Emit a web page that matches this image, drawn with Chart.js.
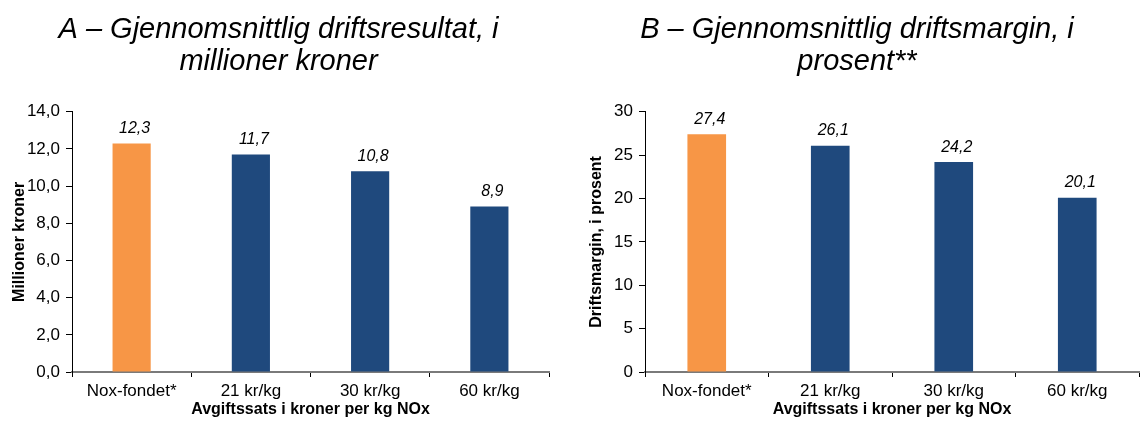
<!DOCTYPE html>
<html lang="no">
<head>
<meta charset="utf-8">
<title>Driftsresultat og driftsmargin</title>
<script src="https://cdn.jsdelivr.net/npm/chart.js@4/dist/chart.umd.min.js"></script>
<style>
  html, body { margin: 0; padding: 0; background: #fff; }
  #wrap { position: relative; width: 1143px; height: 423px; overflow: hidden; background: #fff; }
  .panel { position: absolute; top: 0; }
  #panelA { left: 0; }
  #panelB { left: 572px; }
</style>
</head>
<body>
<div id="wrap">
  <div class="panel" id="panelA"><canvas id="chartA" width="557" height="423"></canvas></div>
  <div class="panel" id="panelB"><canvas id="chartB" width="571" height="423"></canvas></div>
</div>
<script>
// Categories: fee rates per kg NOx
const categories = ['Nox-fondet*', '21 kr/kg', '30 kr/kg', '60 kr/kg'];
// A: average operating result, million NOK
const driftsresultat = [12.3, 11.7, 10.8, 8.9];
// B: average operating margin, percent
const driftsmargin = [27.4, 26.1, 24.2, 20.1];
// Y-axis ranges and steps
const yRangeA = [0, 14, 2];
const yRangeB = [0, 30, 5];

const ORANGE = '#F79646';
const NAVY = '#1F497D';
const FONT = "'Liberation Sans', Arial, Helvetica, sans-serif";
const barColors = categories.map((c, i) => i === 0 ? ORANGE : NAVY);

const fmtComma = (v, d) => v.toFixed(d).replace('.', ',');

// Writes each bar's value just above it, in italics
const valueLabels = {
  id: 'valueLabels',
  afterDatasetsDraw(chart, args, opts) {
    const ctx = chart.ctx;
    const ds = chart.data.datasets[0];
    const meta = chart.getDatasetMeta(0);
    ctx.save();
    ctx.font = 'italic 16px ' + FONT;
    ctx.fillStyle = '#000';
    ctx.textAlign = 'center';
    ctx.textBaseline = 'bottom';
    meta.data.forEach((bar, i) => {
      ctx.fillText(fmtComma(ds.data[i], 1), bar.x + 3, bar.y - 7);
    });
    ctx.restore();
  }
};

function makeChart(id, cfg) {
  return new Chart(document.getElementById(id), {
    type: 'bar',
    data: {
      labels: categories,
      datasets: [{
        data: cfg.values,
        backgroundColor: barColors,
        borderWidth: 0,
        categoryPercentage: 1,
        barPercentage: cfg.barPct
      }]
    },
    options: {
      responsive: false,
      maintainAspectRatio: false,
      animation: false,
      devicePixelRatio: 1,
      layout: { padding: { left: cfg.padLeft, right: cfg.padRight, top: 0, bottom: 0 } },
      plugins: {
        legend: { display: false },
        tooltip: { enabled: false },
        title: {
          display: true,
          text: cfg.title,
          color: '#000',
          font: { family: FONT, size: 29, style: 'italic', weight: 'normal', lineHeight: 1.1 },
          padding: { top: 14, bottom: 34 }
        }
      },
      scales: {
        x: {
          grid: {
            display: true,
            drawOnChartArea: false,
            drawTicks: true,
            tickLength: 5,
            tickColor: '#000',
            offset: true
          },
          border: { display: true, color: '#7a7a7a', width: 2 },
          ticks: {
            color: '#000',
            font: { family: FONT, size: 17 },
            padding: 4,
            maxRotation: 0,
            autoSkip: false
          },
          title: {
            display: true,
            text: 'Avgiftssats i kroner per kg NOx',
            color: '#000',
            font: { family: FONT, size: 16, weight: 'bold' },
            padding: { top: 0, bottom: 4 }
          },
          afterFit(scale) { scale.height = 51; }
        },
        y: {
          min: cfg.range[0],
          max: cfg.range[1],
          grid: {
            display: true,
            drawOnChartArea: false,
            drawTicks: true,
            tickLength: 6,
            tickColor: '#000'
          },
          border: { display: true, color: '#000', width: 1 },
          ticks: {
            stepSize: cfg.range[2],
            color: '#000',
            font: { family: FONT, size: 17 },
            padding: 6,
            callback: (v) => fmtComma(v, cfg.decimals)
          },
          title: {
            display: true,
            text: cfg.yTitle,
            color: '#000',
            font: { family: FONT, size: 16, weight: 'bold' },
            padding: { top: cfg.yTitlePad, bottom: 0 }
          },
          afterFit(scale) { scale.width = cfg.yWidth; }
        }
      }
    },
    plugins: [valueLabels]
  });
}

makeChart('chartA', {
  values: driftsresultat,
  range: yRangeA,
  decimals: 1,
  barPct: 0.32,
  title: ['A – Gjennomsnittlig driftsresultat, i', 'millioner kroner'],
  yTitle: 'Millioner kroner',
  padLeft: 8,
  padRight: 8,
  yWidth: 64,
  yTitlePad: 2
});

makeChart('chartB', {
  values: driftsmargin,
  range: yRangeB,
  decimals: 0,
  barPct: 0.313,
  title: ['B – Gjennomsnittlig driftsmargin, i', 'prosent**'],
  yTitle: 'Driftsmargin, i prosent',
  padLeft: 3,
  padRight: 4,
  yWidth: 70,
  yTitlePad: 12
});
</script>
</body>
</html>
